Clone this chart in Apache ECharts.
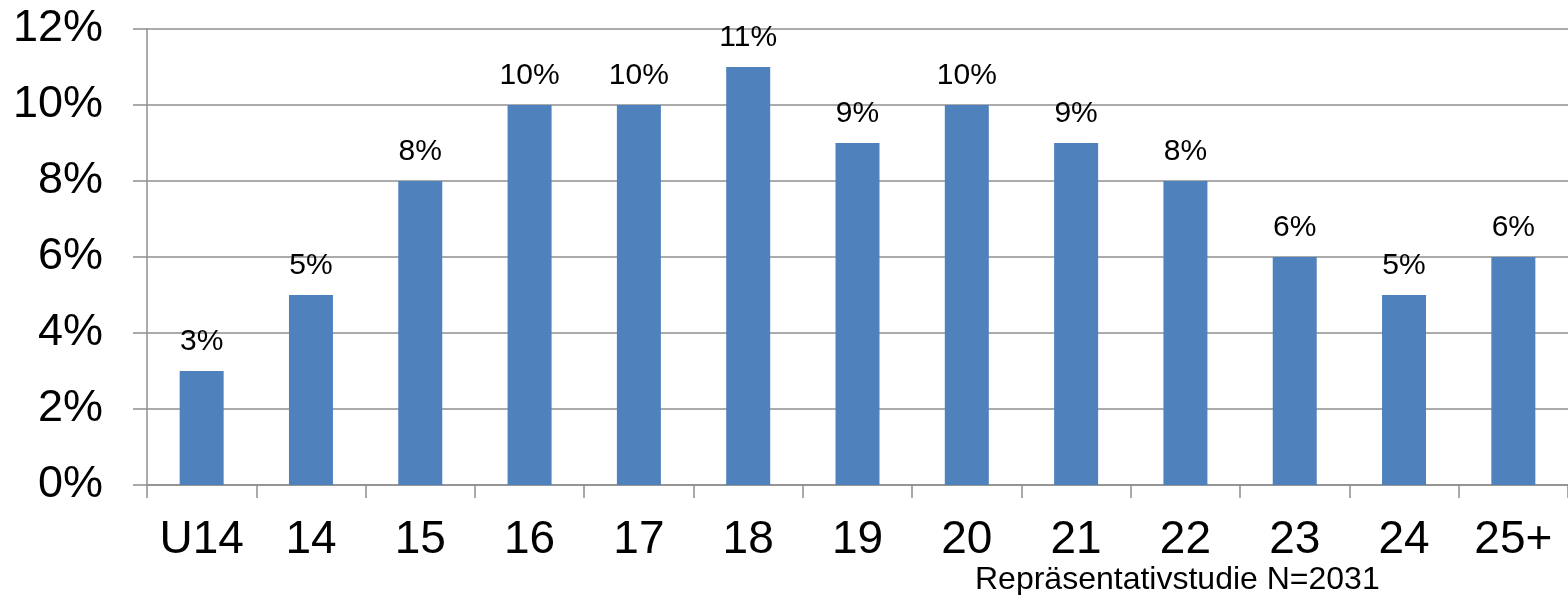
<!DOCTYPE html>
<html>
<head>
<meta charset="utf-8">
<script src="https://cdn.jsdelivr.net/npm/echarts@6/dist/echarts.min.js"></script>
<style>
html,body{margin:0;padding:0;background:#fff;}
#chart{width:1568px;height:595px;}
</style>
</head>
<body>
<div id="chart"></div>
<script>
const categories = ['U14','14','15','16','17','18','19','20','21','22','23','24','25+'];
const shares = [3,5,8,10,10,11,9,10,9,8,6,5,6];
const yTicks = [0,2,4,6,8,10,12];
const footnote = 'Repräsentativstudie N=2031';

const chart = echarts.init(document.getElementById('chart'));
const font = 'Liberation Sans, Arial, sans-serif';
const gray = '#8f8f8f';
chart.setOption({
  animation: false,
  backgroundColor: '#fff',
  grid: {left: 147, top: 29, bottom: 110, right: -12, containLabel: false},
  xAxis: {
    type: 'category',
    data: categories,
    axisLine: {lineStyle: {color: gray, width: 1.5}},
    axisTick: {show: true, length: 13, lineStyle: {color: gray, width: 1.5}},
    axisLabel: {color: '#000', fontSize: 46, fontFamily: font, margin: 32, interval: 0}
  },
  yAxis: {
    type: 'value',
    min: yTicks[0],
    max: yTicks[yTicks.length - 1],
    interval: 2,
    axisLine: {show: true, lineStyle: {color: gray, width: 1.5}},
    axisTick: {show: true, length: 14, lineStyle: {color: gray, width: 1.5}},
    splitLine: {show: true, lineStyle: {color: gray, width: 1.5}},
    axisLabel: {color: '#000', fontSize: 45, fontFamily: font, margin: 44, formatter: v => v + '%'}
  },
  series: [{
    type: 'bar',
    data: shares,
    barWidth: 44,
    itemStyle: {color: '#4F81BD'},
    label: {
      show: true, position: 'top', distance: 14,
      color: '#000', fontSize: 30, fontFamily: font,
      formatter: p => p.value + '%'
    },
    z: 3
  }],
  graphic: [{
    type: 'text', left: 975, top: 564,
    style: {text: footnote, fill: '#000', fontSize: 32, fontFamily: font}
  }]
});
</script>
</body>
</html>
